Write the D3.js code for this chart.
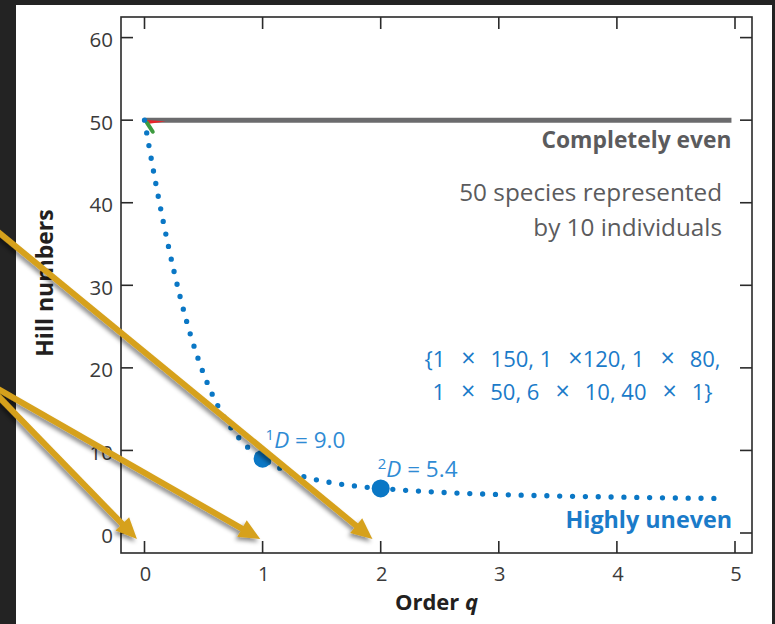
<!DOCTYPE html>
<html>
<head>
<meta charset="utf-8">
<script src="https://cdn.jsdelivr.net/npm/d3@7"></script>
<style>
  html, body { margin: 0; padding: 0; background: #232323; }
  svg { display: block; }
  text { font-family: "Open Sans", "Noto Sans", sans-serif; }
</style>
</head>
<body>
<svg id="chart" width="775" height="624"></svg>
<script>
// Hill numbers qD versus order q for the uneven community
const orderQ = [0, 0.05, 0.1, 0.2, 0.3, 0.4, 0.5, 0.6, 0.7, 0.8, 0.9, 1, 1.2, 1.4, 1.6, 1.8, 2, 2.5, 3, 3.5, 4, 4.5, 4.9];
const hillUneven = [50, 45.9, 42.0, 34.9, 28.7, 23.5, 19.3, 16.0, 13.4, 11.5, 10.05, 9.0, 7.51, 6.63, 6.05, 5.66, 5.4, 4.93, 4.66, 4.48, 4.35, 4.24, 4.18];

// Completely even community: 50 species at every order
const evenQ = [0, 4.97];
const evenD = [50, 50];

// Highlighted orders and their diversities
const markedQ = [1, 2];
const markedD = [9.0, 5.4];
const markedSup = ["1", "2"];

// Short fragments of other curves leaving the q = 0 point
const redQ = [0, 0.18, 0.02];
const redD = [50.05, 49.85, 49.55];
const greenQ = [0.02, 0.07];
const greenD = [49.7, 48.6];

// Abundance composition of the uneven community, two text lines
const compositionLines = [
  "{1 \u00d7 150, 1 \u00d7120, 1 \u00d7 80,",
  "1 \u00d7 50, 6 \u00d7 10, 40 \u00d7 1}"
];

// Axis ticks
const xTicks = [0, 1, 2, 3, 4, 5];
const yTicks = [0, 10, 20, 30, 40, 50, 60];

// Callout arrows (start and tip, in data units)
const arrowFromQ = [-1.37, -1.37, -1.37];
const arrowFromD = [38.0, 18.5, 18.5];
const arrowToQ = [1.93, 0.98, -0.064];
const arrowToD = [-0.73, -0.73, -0.73];

const svg = d3.select("#chart");
const W = 775, H = 624;

const frame = { left: 121, right: 752, top: 17, bottom: 553 };

const x = d3.scaleLinear().domain([0, 5]).range([144.5, 735]);
const y = d3.scaleLinear().domain([0, 60]).range([533, 37.6]);

// white page
svg.append("rect").attr("x", 16).attr("y", 5).attr("width", 756).attr("height", H - 5).attr("fill", "#ffffff");

const defs = svg.append("defs");
const shadow = defs.append("filter").attr("id", "arrowShadow")
  .attr("x", "-20%").attr("y", "-20%").attr("width", "140%").attr("height", "140%");
shadow.append("feDropShadow").attr("dx", -2).attr("dy", 3).attr("stdDeviation", 2)
  .attr("flood-color", "#000").attr("flood-opacity", 0.45);

// frame
svg.append("rect")
  .attr("x", frame.left).attr("y", frame.top)
  .attr("width", frame.right - frame.left).attr("height", frame.bottom - frame.top)
  .attr("fill", "none").attr("stroke", "#2a2a2a").attr("stroke-width", 1.6);

const tickLen = 12;
const axisColor = "#2a2a2a";
const g = svg.append("g");

// bottom & top ticks
g.selectAll(".xtb").data(xTicks).join("line")
  .attr("x1", d => x(d)).attr("x2", d => x(d))
  .attr("y1", frame.bottom).attr("y2", frame.bottom - tickLen)
  .attr("stroke", axisColor).attr("stroke-width", 1.6);
g.selectAll(".xtt").data(xTicks).join("line")
  .attr("x1", d => x(d)).attr("x2", d => x(d))
  .attr("y1", frame.top).attr("y2", frame.top + tickLen)
  .attr("stroke", axisColor).attr("stroke-width", 1.6);
// left & right ticks
g.selectAll(".ytl").data(yTicks).join("line")
  .attr("x1", frame.left).attr("x2", frame.left + tickLen)
  .attr("y1", d => y(d)).attr("y2", d => y(d))
  .attr("stroke", axisColor).attr("stroke-width", 1.6);
g.selectAll(".ytr").data(yTicks).join("line")
  .attr("x1", frame.right).attr("x2", frame.right - tickLen)
  .attr("y1", d => y(d)).attr("y2", d => y(d))
  .attr("stroke", axisColor).attr("stroke-width", 1.6);

// tick labels
g.selectAll(".xl").data(xTicks).join("text")
  .attr("x", d => x(d) + 1).attr("y", frame.bottom + 28)
  .attr("text-anchor", "middle").attr("font-size", 20).attr("fill", "#3a3a3a")
  .text(d => d);
g.selectAll(".yl").data(yTicks).join("text")
  .attr("x", frame.left - 8).attr("y", d => y(d) + 9.5)
  .attr("text-anchor", "end").attr("font-size", 20.5).attr("fill", "#3a3a3a")
  .text(d => d);

// axis titles
const xt = svg.append("text")
  .attr("x", (frame.left + frame.right) / 2).attr("y", 610)
  .attr("text-anchor", "middle").attr("font-size", 22).attr("font-weight", 700).attr("fill", "#231f20");
xt.append("tspan").text("Order ");
xt.append("tspan").attr("font-style", "italic").text("q");

svg.append("text")
  .attr("transform", `translate(53,${(frame.top + frame.bottom) / 2 - 2}) rotate(-90)`)
  .attr("text-anchor", "middle").attr("font-size", 23).attr("font-weight", 700).attr("fill", "#231f20")
  .text("Hill numbers");

// completely even line
const line = d3.line().x(d => x(d[0])).y(d => y(d[1]));
svg.append("path")
  .attr("d", line(d3.zip(evenQ, evenD)))
  .attr("fill", "none").attr("stroke", "#6b6b6d").attr("stroke-width", 5);

// fragments of other curves
svg.append("path")
  .attr("d", line(d3.zip(redQ, redD)) + "Z")
  .attr("fill", "#e8262b").attr("stroke", "none");
svg.append("path")
  .attr("d", line(d3.zip(greenQ, greenD)))
  .attr("fill", "none").attr("stroke", "#3d9b3f").attr("stroke-width", 4).attr("stroke-linecap", "round");

// uneven community: dotted curve
const curve = d3.line().x(d => x(d[0])).y(d => y(d[1])).curve(d3.curveMonotoneX);
svg.append("path")
  .attr("d", curve(d3.zip(orderQ, hillUneven)))
  .attr("fill", "none").attr("stroke", "#0a77c5").attr("stroke-width", 5.3)
  .attr("stroke-linecap", "round").attr("stroke-dasharray", "0 12.85");

// highlighted points
svg.selectAll(".mk").data(d3.zip(markedQ, markedD)).join("circle")
  .attr("cx", d => x(d[0])).attr("cy", d => y(d[1])).attr("r", 9)
  .attr("fill", "#0a77c5");

// point labels  ^qD = value
const labelOffsets = [[3, -11], [-3, -11]];
d3.zip(markedQ, markedD, markedSup).forEach((d, i) => {
  const t = svg.append("text")
    .attr("x", x(d[0]) + labelOffsets[i][0]).attr("y", y(d[1]) + labelOffsets[i][1])
    .attr("font-size", 22.5).attr("fill", "#2f8bd4");
  t.append("tspan").attr("font-size", 15).attr("dy", -8).text(d[2]);
  t.append("tspan").attr("dy", 8).attr("font-style", "italic").text("D");
  t.append("tspan").text(" = " + d[1].toFixed(1));
});

// annotations
svg.append("text")
  .attr("x", x(evenQ[1])).attr("y", 148)
  .attr("text-anchor", "end").attr("font-size", 22.8).attr("font-weight", 700).attr("fill", "#5b5b5d")
  .text("Completely even");

const note = svg.append("text")
  .attr("text-anchor", "end").attr("font-size", 24.3).attr("fill", "#5b5b5d");
note.append("tspan").attr("x", 722).attr("y", 201).text("50 species represented");
note.append("tspan").attr("x", 722).attr("y", 236).text("by 10 individuals");

// composition lines: multiplication signs set a little larger with wide spacing
compositionLines.forEach((str, li) => {
  const t = svg.append("text")
    .attr("x", 572.5).attr("y", 367 + li * 33)
    .attr("text-anchor", "middle").attr("font-size", 22).attr("fill", "#1b7bc9");
  str.split("\u00d7").forEach((p, pi) => {
    let part = p.replace(/ $/, "");
    if (pi > 0) {
      const spaced = part.startsWith(" ");
      t.append("tspan").attr("font-size", 25).attr("dx", 3.5).text("\u2002\u00d7" + (spaced ? "\u2002" : ""));
      part = part.replace(/^ /, "");
      t.append("tspan").attr("dx", spaced ? 2.5 : 0).text(part);
      return;
    }
    t.append("tspan").text(part);
  });
});

svg.append("text")
  .attr("x", 732).attr("y", 528)
  .attr("text-anchor", "end").attr("font-size", 23.3).attr("font-weight", 700).attr("fill", "#1b7bc9")
  .text("Highly uneven");

// callout arrows
const arrows = svg.append("g").attr("filter", "url(#arrowShadow)");
const gold = "#d6a11b";
d3.range(arrowToQ.length).forEach(i => {
  const x0 = x(arrowFromQ[i]), y0 = y(arrowFromD[i]);
  const x1 = x(arrowToQ[i]), y1 = y(arrowToD[i]);
  const ang = Math.atan2(y1 - y0, x1 - x0);
  const L = 21, w = 9.5;
  const bx = x1 - L * Math.cos(ang), by = y1 - L * Math.sin(ang);
  arrows.append("line")
    .attr("x1", x0).attr("y1", y0).attr("x2", bx + 2 * Math.cos(ang)).attr("y2", by + 2 * Math.sin(ang))
    .attr("stroke", gold).attr("stroke-width", 6);
  arrows.append("path")
    .attr("d", `M${x1},${y1}L${bx - w * Math.sin(ang)},${by + w * Math.cos(ang)}L${bx + w * Math.sin(ang)},${by - w * Math.cos(ang)}Z`)
    .attr("fill", gold);
});
</script>
</body>
</html>
